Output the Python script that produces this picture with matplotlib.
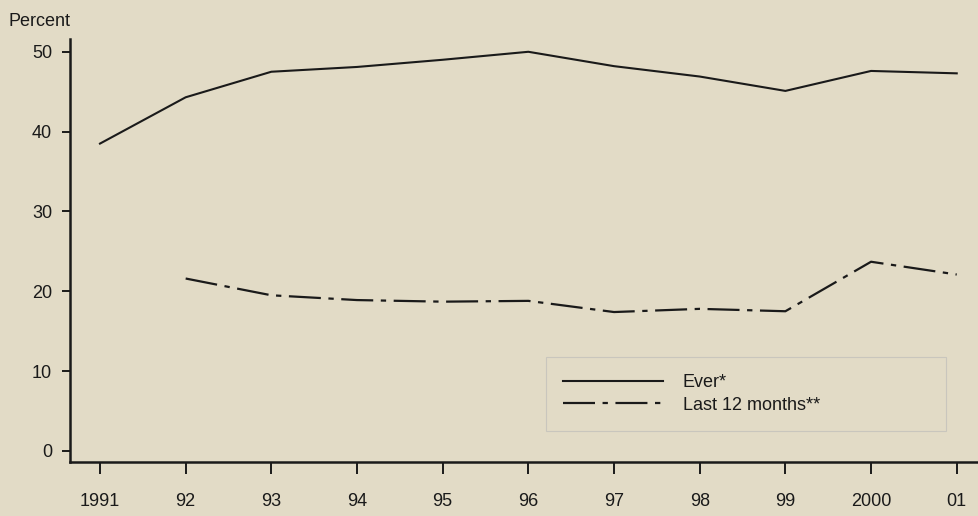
import matplotlib
matplotlib.use('Agg')
import matplotlib.pyplot as plt

# Data
years = [1991, 1992, 1993, 1994, 1995, 1996, 1997, 1998, 1999, 2000, 2001]
ever = [38.5, 44.3, 47.5, 48.1, 49.0, 50.0, 48.2, 46.9, 45.1, 47.6, 47.3]
years_12m = [1992, 1993, 1994, 1995, 1996, 1997, 1998, 1999, 2000, 2001]
last_12m = [21.6, 19.5, 18.9, 18.7, 18.8, 17.4, 17.8, 17.5, 23.7, 22.1]
tick_labels = ['1991', '92', '93', '94', '95', '96', '97', '98', '99', '2000', '01']
y_ticks = [0, 10, 20, 30, 40, 50]

bg = '#e2dbc6'
ink = '#1a1a1a'

plt.rcParams['font.family'] = ['Liberation Sans', 'DejaVu Sans']

fig = plt.figure(figsize=(9.79, 5.16), dpi=100, facecolor=bg)
ax = fig.add_axes([0.0715, 0.1047, 0.9285, 0.8197], facecolor=bg)

ax.plot(years, ever, color=ink, lw=1.5, label='Ever*')
ax.plot(years_12m, last_12m, color=ink, lw=1.6,
        linestyle=(0, (14.4, 3.4, 2.4, 3.4)), label='Last 12 months**')

ax.set_xlim(1990.65, 2001.26)
ax.set_ylim(-1.38, 51.6)
ax.set_xticks(years)
ax.set_xticklabels(tick_labels)
ax.set_yticks(y_ticks)

for s in ['top', 'right']:
    ax.spines[s].set_visible(False)
for s in ['left', 'bottom']:
    ax.spines[s].set_linewidth(1.8)
    ax.spines[s].set_color(ink)

ax.tick_params(axis='y', direction='out', length=5.8, width=1.4, pad=7,
               labelsize=13, colors=ink)
ax.tick_params(axis='x', direction='out', length=8.6, width=1.4, pad=14,
               labelsize=13, colors=ink)

fig.text(0.009, 0.958, 'Percent', fontsize=13, color=ink, ha='left', va='center')

leg = ax.legend(loc='upper left', bbox_to_anchor=(0.524, 0.064, 0.44, 0.184),
                mode='expand', borderaxespad=0, fontsize=13, handlelength=5.5,
                handletextpad=1.1, labelspacing=0.3, borderpad=0.95,
                fancybox=False, frameon=True, framealpha=1)
leg.get_frame().set_facecolor(bg)
leg.get_frame().set_edgecolor('#c9c6bd')
leg.get_frame().set_linewidth(0.8)
for t in leg.get_texts():
    t.set_color(ink)

fig.savefig('out.png', dpi=100, facecolor=bg)
